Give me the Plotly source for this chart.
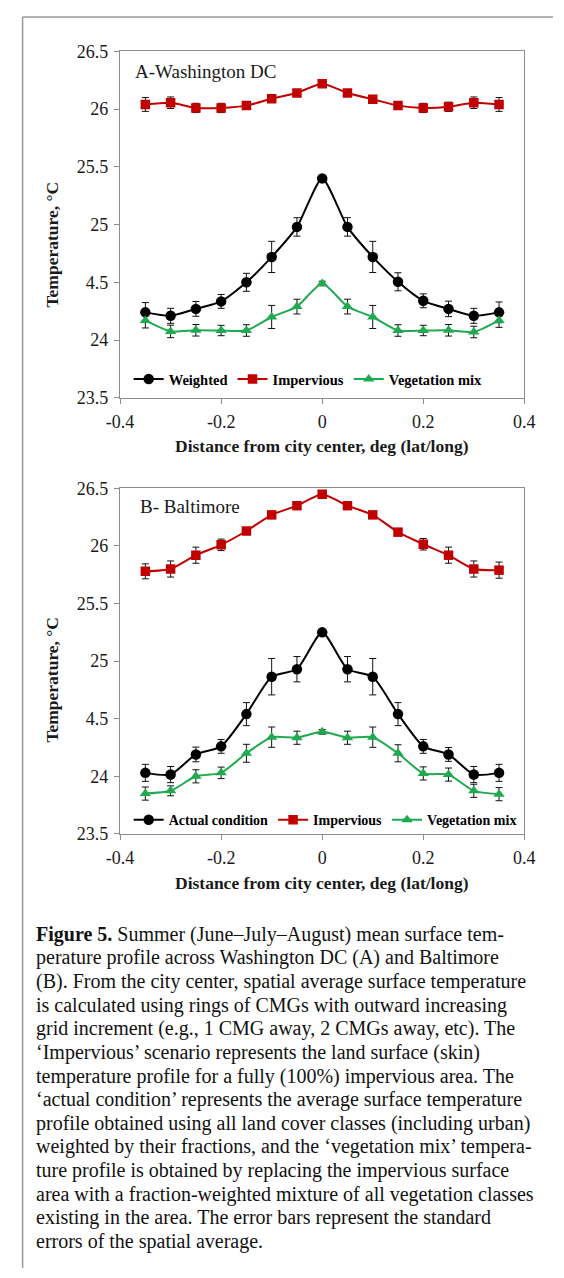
import plotly.graph_objects as go

W, H = 564, 1278

distance = [-0.35, -0.3, -0.25, -0.2, -0.15, -0.1, -0.05, 0, 0.05, 0.1, 0.15, 0.2, 0.25, 0.3, 0.35]

# Panel A - Washington DC
dc_weighted = [24.24, 24.21, 24.27, 24.335, 24.50, 24.72, 24.98, 25.40, 24.98, 24.72, 24.505, 24.34, 24.27, 24.21, 24.24]
dc_weighted_err = [0.085, 0.065, 0.064, 0.06, 0.078, 0.135, 0.08, 0.02, 0.08, 0.135, 0.078, 0.06, 0.067, 0.065, 0.09]
dc_impervious = [26.04, 26.055, 26.01, 26.01, 26.03, 26.09, 26.14, 26.22, 26.14, 26.085, 26.03, 26.01, 26.02, 26.055, 26.04]
dc_impervious_err = [0.06, 0.05, 0.04, 0.04, 0.03, 0.03, 0.02, 0.02, 0.02, 0.03, 0.03, 0.04, 0.04, 0.05, 0.06]
dc_veg = [24.17, 24.075, 24.085, 24.083, 24.083, 24.20, 24.29, 24.49, 24.29, 24.20, 24.083, 24.083, 24.085, 24.07, 24.17]
dc_veg_err = [0.065, 0.054, 0.05, 0.045, 0.05, 0.1, 0.064, 0.02, 0.064, 0.1, 0.05, 0.045, 0.05, 0.05, 0.06]

# Panel B - Baltimore
bal_actual = [24.03, 24.015, 24.19, 24.26, 24.54, 24.865, 24.93, 25.25, 24.93, 24.865, 24.54, 24.26, 24.19, 24.015, 24.03]
bal_actual_err = [0.074, 0.07, 0.064, 0.06, 0.1, 0.158, 0.11, 0.02, 0.11, 0.158, 0.1, 0.06, 0.06, 0.07, 0.074]
bal_impervious = [25.78, 25.80, 25.92, 26.01, 26.13, 26.27, 26.35, 26.45, 26.35, 26.27, 26.12, 26.015, 25.92, 25.80, 25.79]
bal_impervious_err = [0.065, 0.07, 0.07, 0.05, 0.03, 0.02, 0.02, 0.02, 0.02, 0.02, 0.03, 0.05, 0.07, 0.07, 0.07]
bal_veg = [23.85, 23.874, 24.0, 24.03, 24.2, 24.34, 24.335, 24.386, 24.335, 24.34, 24.2, 24.025, 24.015, 23.874, 23.845]
bal_veg_err = [0.057, 0.043, 0.057, 0.05, 0.078, 0.088, 0.057, 0.02, 0.057, 0.088, 0.074, 0.057, 0.057, 0.057, 0.057]

y_tickvals = [23.5, 24, 24.5, 25, 25.5, 26, 26.5]
y_ticktext = ["23.5", "24", "4.5", "25", "25.5", "26", "26.5"]
x_tickvals = [-0.4, -0.2, 0, 0.2, 0.4]
x_ticktext = ["-0.4", "-0.2", "0", "0.2", "0.4"]

caption_lines = [
    "<b>Figure 5.</b> Summer (June–July–August) mean surface tem-",
    "perature profile across Washington DC (A) and Baltimore",
    "(B). From the city center, spatial average surface temperature",
    "is calculated using rings of CMGs with outward increasing",
    "grid increment (e.g., 1 CMG away, 2 CMGs away, etc). The",
    "‘Impervious’ scenario represents the land surface (skin)",
    "temperature profile for a fully (100%) impervious area. The",
    "‘actual condition’ represents the average surface temperature",
    "profile obtained using all land cover classes (including urban)",
    "weighted by their fractions, and the ‘vegetation mix’ tempera-",
    "ture profile is obtained by replacing the impervious surface",
    "area with a fraction-weighted mixture of all vegetation classes",
    "existing in the area. The error bars represent the standard",
    "errors of the spatial average.",
]

SERIF = "Liberation Serif"
RED = "#C00000"
GREEN = "#1FAA4F"
AXIS_GREY = "#8C8C8C"


def px(x):
    return x / W


def py(y):
    return 1 - y / H


fig = go.Figure()


def add_series(x, y, err, name, color, symbol, msize, xa, ya, legend):
    fig.add_trace(go.Scatter(
        x=x, y=y, name=name, mode="lines+markers",
        line=dict(color=color, width=2, shape="spline", smoothing=0.6),
        marker=dict(color=color, symbol=symbol, size=msize),
        error_y=dict(type="data", array=err, visible=True, color="#111111", thickness=1, width=3.5),
        xaxis=xa, yaxis=ya, legend=legend,
    ))


add_series(distance, dc_weighted, dc_weighted_err, "<b>Weighted</b>", "black", "circle", 10.5, "x", "y", "legend")
add_series(distance, dc_impervious, dc_impervious_err, "<b>Impervious</b>", RED, "square", 9.5, "x", "y", "legend")
add_series(distance, dc_veg, dc_veg_err, "<b>Vegetation mix</b>", GREEN, "triangle-up", 10, "x", "y", "legend")

add_series(distance, bal_actual, bal_actual_err, "<b>Actual condition</b>", "black", "circle", 10.5, "x2", "y2", "legend2")
add_series(distance, bal_impervious, bal_impervious_err, "<b>Impervious</b>", RED, "square", 9.5, "x2", "y2", "legend2")
add_series(distance, bal_veg, bal_veg_err, "<b>Vegetation mix</b>", GREEN, "triangle-up", 10, "x2", "y2", "legend2")

xdom = [px(111), px(534)]
ydom_top = [py(394), py(42)]
ydom_bot = [py(837), py(486)]

axis_common = dict(
    showgrid=False, zeroline=False, showline=True, linecolor=AXIS_GREY, linewidth=1.3,
    mirror=True, ticks="outside", ticklen=5, tickcolor=AXIS_GREY, tickwidth=1.3,
    tickfont=dict(family=SERIF, size=18, color="#1a1a1a"),
)

fig.update_layout(
    width=W, height=H, autosize=False,
    margin=dict(l=0, r=0, t=0, b=0),
    paper_bgcolor="white", plot_bgcolor="white",
    showlegend=True,
    xaxis=dict(domain=xdom, range=[-0.4, 0.4], tickvals=x_tickvals, ticktext=x_ticktext,
               anchor="y", ticklabelstandoff=2, **axis_common),
    yaxis=dict(domain=ydom_top, range=[23.5, 26.5], tickvals=y_tickvals, ticktext=y_ticktext,
               anchor="x", ticklabelstandoff=2, **axis_common),
    xaxis2=dict(domain=xdom, range=[-0.4, 0.4], tickvals=x_tickvals, ticktext=x_ticktext,
                anchor="y2", ticklabelstandoff=2, **axis_common),
    yaxis2=dict(domain=ydom_bot, range=[23.5, 26.5], tickvals=y_tickvals, ticktext=y_ticktext,
                anchor="x2", ticklabelstandoff=2, **axis_common),
    legend=dict(orientation="h", x=px(120), y=py(375), xanchor="left", yanchor="middle",
                bgcolor="rgba(0,0,0,0)", font=dict(family=SERIF, size=14.5, color="black"),
                itemwidth=30, tracegroupgap=0),
    legend2=dict(orientation="h", x=px(120), y=py(823), xanchor="left", yanchor="middle",
                 bgcolor="rgba(0,0,0,0)", font=dict(family=SERIF, size=14, color="black"),
                 itemwidth=30, tracegroupgap=0),
)

annotations = []
# panel labels
annotations.append(dict(text="A-Washington DC", x=px(124), y=py(62), xref="paper", yref="paper",
                        xanchor="left", yanchor="middle", showarrow=False,
                        font=dict(family=SERIF, size=19, color="#1a1a1a")))
annotations.append(dict(text="B- Baltimore", x=px(130), y=py(504), xref="paper", yref="paper",
                        xanchor="left", yanchor="middle", showarrow=False,
                        font=dict(family=SERIF, size=19, color="#1a1a1a")))
# axis titles
for yc in (443, 887):
    annotations.append(dict(text="<b>Distance from city center, deg (lat/long)</b>", x=px(322), y=py(yc),
                            xref="paper", yref="paper", xanchor="center", yanchor="middle", showarrow=False,
                            font=dict(family=SERIF, size=17.5, color="#1a1a1a")))
for yc in (238, 680):
    annotations.append(dict(text="<b>Temperature, °C</b>", x=px(40), y=py(yc), textangle=-90,
                            xref="paper", yref="paper", xanchor="center", yanchor="middle", showarrow=False,
                            font=dict(family=SERIF, size=17.5, color="#1a1a1a")))
# caption
for i, line in enumerate(caption_lines):
    annotations.append(dict(text=line, x=px(21), y=py(939 + 24 * i), xref="paper", yref="paper",
                            xanchor="left", yanchor="middle", showarrow=False, align="left",
                            font=dict(family=SERIF, size=20, color="#111111")))
fig.update_layout(annotations=annotations)

# outer frame (top and left edges)
fig.update_layout(shapes=[
    dict(type="line", xref="paper", yref="paper", x0=px(9), x1=1, y0=py(7), y1=py(7),
         line=dict(color="#999999", width=1.5)),
    dict(type="line", xref="paper", yref="paper", x0=px(9), x1=px(9), y0=py(7), y1=0,
         line=dict(color="#999999", width=1.5)),
])

fig.write_html(
    "out.html",
    config={"displayModeBar": False},
    post_script="document.body.style.margin='0px';document.body.style.padding='0px';"
                "document.documentElement.style.overflow='hidden';document.body.style.overflow='hidden';",
)
